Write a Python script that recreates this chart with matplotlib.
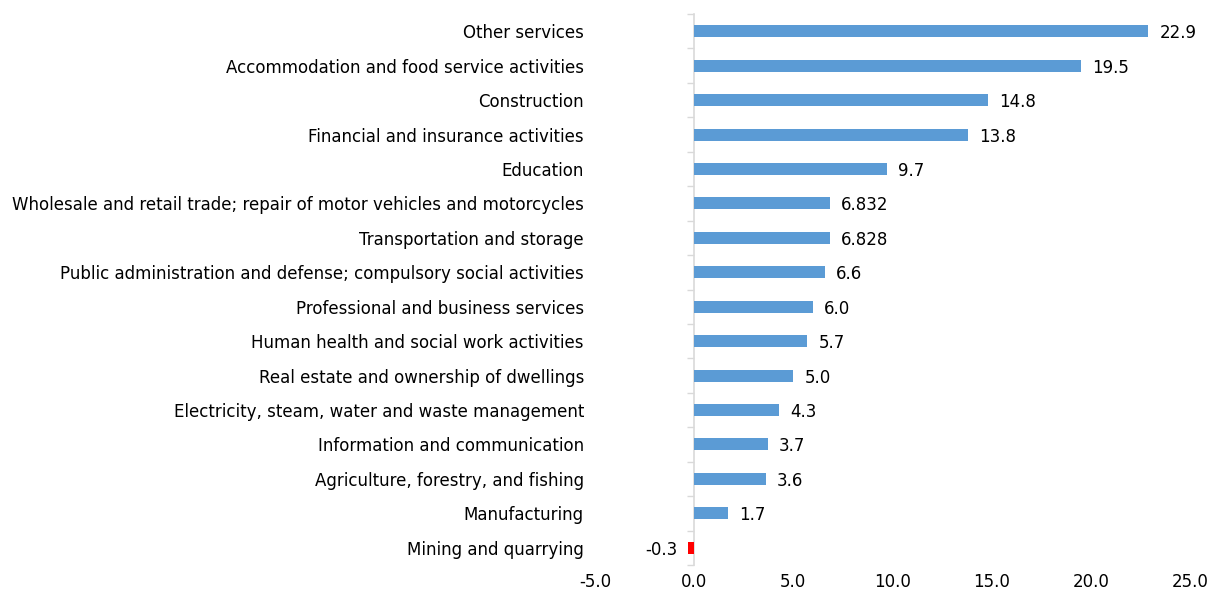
import matplotlib
matplotlib.use("Agg")
import matplotlib.pyplot as plt
import numpy as np

categories = [
    "Other services",
    "Accommodation and food service activities",
    "Construction",
    "Financial and insurance activities",
    "Education",
    "Wholesale and retail trade; repair of motor vehicles and motorcycles",
    "Transportation and storage",
    "Public administration and defense; compulsory social activities",
    "Professional and business services",
    "Human health and social work activities",
    "Real estate and ownership of dwellings",
    "Electricity, steam, water and waste management",
    "Information and communication",
    "Agriculture, forestry, and fishing",
    "Manufacturing",
    "Mining and quarrying",
]
values = [22.9, 19.5, 14.8, 13.8, 9.7, 6.832, 6.828, 6.6, 6.0, 5.7, 5.0, 4.3, 3.7, 3.6, 1.7, -0.3]
value_labels = ["22.9", "19.5", "14.8", "13.8", "9.7", "6.832", "6.828", "6.6", "6.0",
                "5.7", "5.0", "4.3", "3.7", "3.6", "1.7", "-0.3"]
x_ticks = [-5, 0, 5, 10, 15, 20, 25]

plt.rcParams['font.family'] = ['DejaVu Sans']
FS = 12

fig = plt.figure(figsize=(12.11, 5.91), dpi=100)
ax = fig.add_axes([595/1211, 1-565/591, (1190-595)/1211, (565-14)/591])

y = np.arange(len(categories))
colors = ['#FF0000' if v < 0 else '#5B9BD5' for v in values]
ax.barh(y, values, height=0.35, color=colors, zorder=2)

for yi, v, lab in zip(y, values, value_labels):
    if v >= 0:
        ax.annotate(lab, (v, yi), xytext=(8, 0), textcoords='offset points',
                    va='center_baseline', ha='left', fontsize=FS, color='#000000')
    else:
        ax.annotate(lab, (v, yi), xytext=(-8, 0), textcoords='offset points',
                    va='center_baseline', ha='right', fontsize=FS, color='#000000')

ax.set_xlim(-5, 25)
ax.set_ylim(len(categories)-0.5, -0.5)
ax.set_xticks(x_ticks)
ax.set_xticklabels([f"{t:.1f}" for t in x_ticks], fontsize=FS)
ax.set_yticks(y)
ax.set_yticklabels(categories, fontsize=FS)
ax.tick_params(axis='y', length=0, pad=8)
ax.tick_params(axis='x', length=0, pad=6)
for s in ax.spines.values():
    s.set_visible(False)

# Category axis line at x = 0 with boundary ticks
loc = (0 - (-5)) / (25 - (-5))
sec = ax.secondary_yaxis(loc)
sec.set_yticks(np.arange(len(categories)+1) - 0.5)
sec.set_yticklabels([])
sec.tick_params(axis='y', length=5, width=1, color='#D9D9D9', direction='out')
sec.spines['left'].set_color('#D9D9D9')
sec.spines['left'].set_linewidth(1.2)

fig.savefig("out.png", dpi=100)
